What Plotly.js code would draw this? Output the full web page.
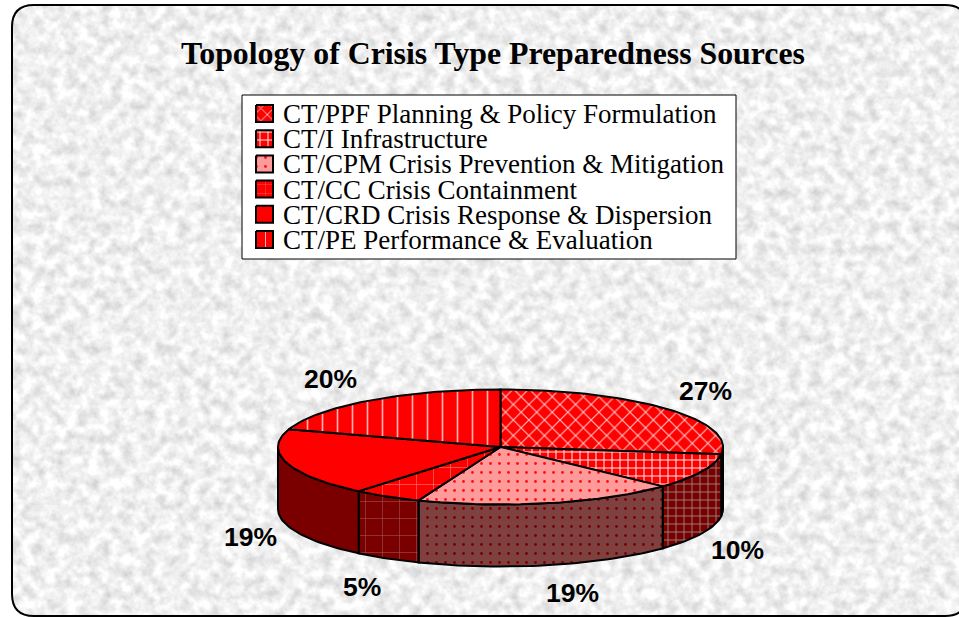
<!DOCTYPE html>
<html><head><meta charset="utf-8">
<script src="https://cdn.plot.ly/plotly-3.0.1.min.js"></script>
<style>html,body{margin:0;padding:0;background:#fff}#plot{width:959px;height:617px}</style>
</head><body><div id="plot"></div>
<script>
// Data
const categories = ["CT/PPF Planning & Policy Formulation","CT/I Infrastructure","CT/CPM Crisis Prevention & Mitigation","CT/CC Crisis Containment","CT/CRD Crisis Response & Dispersion","CT/PE Performance & Evaluation"];
const shares = [27,10,19,5,19,20];
const chartTitle = "Topology of Crisis Type Preparedness Sources";
// Styles
const topPatterns = [
 {shape:"x",bgcolor:"#ff0000",fgcolor:"#ffc0c0",size:11,solidity:0.2},
 {shape:"+",bgcolor:"#ff0000",fgcolor:"#ffe8e8",size:8,solidity:0.24},
 {shape:".",bgcolor:"#ff9a9a",fgcolor:"#ff1010",size:9,solidity:0.08},
 {shape:"+",bgcolor:"#ff0000",fgcolor:"#ff9090",size:17,solidity:0.06},
 null,
 {shape:"|",bgcolor:"#ff0000",fgcolor:"#ffb0b0",size:15,solidity:0.11}
];
const wallPatterns = [
 {shape:"x",bgcolor:"#7a0000",fgcolor:"#909090",size:11,solidity:0.16},
 {shape:"+",bgcolor:"#7a0000",fgcolor:"#909090",size:8,solidity:0.2},
 {shape:".",bgcolor:"#7f4040",fgcolor:"#7a0000",size:9,solidity:0.08},
 {shape:"+",bgcolor:"#7a0000",fgcolor:"#a06060",size:17,solidity:0.06},
 null,null
];
const labelX=[705.5,737.5,572.5,361.5,250.5,330.5], labelY=[391,550,593,587,537,379];
const CX=500.5,CY=447,RX=222.5,RY=57.5,H=62;
const rad=d=>d*Math.PI/180;
const px=a=>CX+RX*Math.sin(rad(a)), py=a=>CY-RY*Math.cos(rad(a));
function arc(a,b){const o=[];const n=Math.max(2,Math.ceil(Math.abs(b-a)/1.5));for(let i=0;i<=n;i++)o.push(a+(b-a)*i/n);return o;}
const total=shares.reduce((s,v)=>s+v,0);
let run=0;const spans=shares.map(v=>{const a=run/total*360;run+=v;return [a,run/total*360];});
const traces=[];
// walls: the visible lower half of the cylinder
spans.forEach((s,i)=>{
  const a=Math.max(s[0],90),b=Math.min(s[1],270);
  if(b<=a)return;
  const t=arc(a,b);
  const x=t.map(px).concat(t.slice().reverse().map(px)); x.push(x[0]);
  const y=t.map(py).concat(t.slice().reverse().map(d=>py(d)+H)); y.push(y[0]);
  const tr={type:"scatter",mode:"lines",x,y,fill:"toself",fillcolor:"#7a0000",line:{color:"#000",width:2},hoverinfo:"skip",showlegend:false};
  if(wallPatterns[i])tr.fillpattern=wallPatterns[i];
  traces.push(tr);
});
// top face slices
spans.forEach((s,i)=>{
  const t=arc(s[0],s[1]);
  const x=[CX].concat(t.map(px),[CX]), y=[CY].concat(t.map(py),[CY]);
  const tr={type:"scatter",mode:"lines",x,y,name:categories[i],fill:"toself",fillcolor:"#ff0000",line:{color:"#000",width:2},hoverinfo:"name",showlegend:false};
  if(topPatterns[i])tr.fillpattern=topPatterns[i];
  traces.push(tr);
});
// legend swatches
const LX=256,LW=17,LY0=105,LS=25.2,LH=17;
categories.forEach((c,i)=>{
  const y0=LY0+i*LS;
  const tr={type:"scatter",mode:"lines",x:[LX,LX+LW,LX+LW,LX,LX],y:[y0,y0,y0+LH,y0+LH,y0],fill:"toself",fillcolor:"#ff0000",line:{color:"#000",width:2},hoverinfo:"skip",showlegend:false};
  if(topPatterns[i])tr.fillpattern=Object.assign({},topPatterns[i],{size:Math.min(topPatterns[i].size,9)});
  traces.push(tr);
});
const serif="'Liberation Serif','Times New Roman',serif", sans="'Liberation Sans',Arial,sans-serif";
const anns=[{x:492.5,y:53,text:"<b>"+chartTitle+"</b>",showarrow:false,xanchor:"center",yanchor:"middle",font:{family:serif,size:31.8,color:"#000"}}];
categories.forEach((c,i)=>anns.push({x:281,y:LY0+LH/2+i*LS+0.5,text:c.replace("&","&amp;"),showarrow:false,xanchor:"left",yanchor:"middle",font:{family:serif,size:27,color:"#000"}}));
shares.forEach((v,i)=>anns.push({x:labelX[i],y:labelY[i],text:"<b>"+v+"%</b>",showarrow:false,xanchor:"center",yanchor:"middle",font:{family:sans,size:26.5,color:"#000"}}));
const frame="M12,27 Q12,5 34,5 H945 Q967,5 967,27 V594 Q967,616 945,616 H34 Q12,616 12,594 Z";
const shapes=[
 {type:"path",layer:"below",path:"M-20,-20 H980 V640 H-20 Z "+frame,fillcolor:"#fff",fillrule:"evenodd",line:{width:0}},
 {type:"path",layer:"below",path:frame,line:{color:"#000",width:2}},
 {type:"rect",layer:"below",x0:242,x1:736,y0:95,y1:259,fillcolor:"#fff",line:{color:"#000",width:1}}
];
const layout={width:959,height:617,margin:{l:0,r:0,t:0,b:0},paper_bgcolor:"rgba(0,0,0,0)",plot_bgcolor:"rgba(0,0,0,0)",showlegend:false,
 xaxis:{range:[0,959],visible:false,fixedrange:true},yaxis:{range:[617,0],visible:false,fixedrange:true},annotations:anns,shapes};
const svg="<svg xmlns='http://www.w3.org/2000/svg' width='959' height='617'><filter id='n' color-interpolation-filters='sRGB' x='0' y='0' width='100%' height='100%'><feTurbulence type='fractalNoise' baseFrequency='0.09' numOctaves='3' seed='7'/><feColorMatrix values='0.3 0 0 0 0.79  0.3 0 0 0 0.79  0.3 0 0 0 0.79  0 0 0 0 1'/></filter><rect width='959' height='617' filter='url(#n)'/></svg>";
document.getElementById("plot").style.background="url(\"data:image/svg+xml,"+encodeURIComponent(svg)+"\")";
Plotly.newPlot("plot",traces,layout,{displayModeBar:false,responsive:false});
</script></body></html>
